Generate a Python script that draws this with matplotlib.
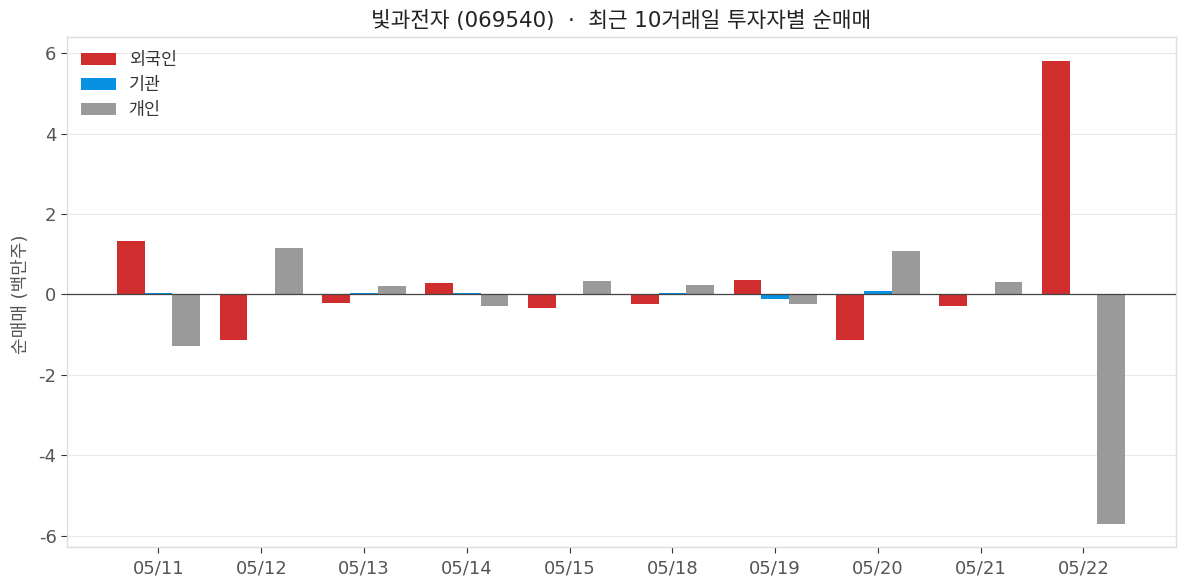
import matplotlib
matplotlib.use('Agg')
import matplotlib.pyplot as plt
import numpy as np

# latin from DejaVu is wider, closer to the original font
plt.rcParams['font.family'] = ['DejaVu Sans', 'Noto Sans CJK KR']
plt.rcParams['axes.unicode_minus'] = False

dates = ['05/11', '05/12', '05/13', '05/14', '05/15', '05/18', '05/19', '05/20', '05/21', '05/22']
foreign = [1.32, -1.13, -0.21, 0.28, -0.33, -0.24, 0.36, -1.13, -0.30, 5.80]
institution = [0.03, 0.0, 0.03, 0.03, 0.0, 0.03, -0.12, 0.08, 0.0, 0.0]
retail = [-1.28, 1.15, 0.20, -0.29, 0.33, 0.23, -0.24, 1.07, 0.30, -5.72]

x = np.arange(len(dates))
width = 0.27

fig = plt.figure(figsize=(11.87, 5.87), dpi=100)
ax = fig.add_axes([67 / 1187, 1 - 547 / 587, 1109 / 1187, 510 / 587])

ax.bar(x - width, foreign, width, color='#D02E2E', label='외국인', zorder=3)
ax.bar(x, institution, width, color='#0891E3', label='기관', zorder=3)
ax.bar(x + width, retail, width, color='#9A9A9A', label='개인', zorder=3)

ax.axhline(0, color='#444444', linewidth=0.9, zorder=4)

ax.set_xlim(-0.89, 9.90)
ax.set_ylim(-6.28, 6.4)
ax.set_xticks(x)
ax.set_xticklabels(dates)
ax.set_yticks([-6, -4, -2, 0, 2, 4, 6])
ax.set_yticklabels(['-6', '-4', '-2', '0', '2', '4', '6'])
ax.tick_params(axis='both', labelsize=13, labelcolor='#555555', color='#333333', length=4, width=0.8)
ax.tick_params(axis='x', pad=5)

ax.grid(axis='y', color='#E8E8E8', linewidth=0.8, zorder=0)
ax.set_axisbelow(True)
for spine in ax.spines.values():
    spine.set_color('#DDDDDD')
    spine.set_linewidth(1.0)

ax.set_ylabel('순매매 (백만주)', fontsize=13, color='#555555', labelpad=6.5, y=0.496)
ax.set_title('빛과전자 (069540)  ·  최근 10거래일 투자자별 순매매', fontsize=15.4, color='#222222', pad=7)

ax.legend(loc='upper left', frameon=False, fontsize=12.5, labelcolor='#333333', labelspacing=0.41,
          handletextpad=0.75, borderaxespad=0.4, borderpad=0.4)

fig.savefig('out.png', dpi=100)
